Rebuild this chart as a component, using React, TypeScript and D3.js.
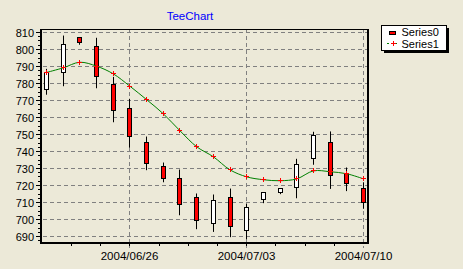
import React from "react";
import * as d3 from "d3";

const W = 463;
const H = 269;

const startDate = new Date(2004, 5, 21);
const days = d3.range(20).map((i) => d3.timeDay.offset(startDate, i));

const openVals = [776.6, 786.3, 806.9, 801.6, 779.2, 765.3, 745.1, 731.2, 723.9, 712.8, 697.5, 712.8, 693.3, 711.6, 715.6, 718.6, 735.7, 745.1, 727.2, 718.4];
const highVals = [788.6, 808.2, 806.9, 806.9, 783.9, 771.0, 748.8, 733.5, 729.4, 715.3, 714.7, 718.2, 709.4, 715.6, 718.1, 735.7, 751.6, 751.8, 730.6, 721.9];
const lowVals = [773.4, 778.4, 802.8, 777.2, 757.2, 742.2, 729.0, 721.9, 702.5, 694.3, 692.7, 689.6, 688.4, 709.6, 714.9, 712.5, 732.2, 718.0, 716.7, 706.3];
const closeVals = [786.5, 802.9, 803.9, 783.9, 763.9, 748.8, 732.8, 724.1, 709.0, 699.2, 711.2, 696.1, 706.9, 715.6, 718.1, 732.2, 749.4, 725.7, 721.4, 710.2];

const series1Vals = [786.5, 789.2, 792.5, 790.2, 785.7, 778.4, 770.5, 762.2, 752.2, 742.8, 736.9, 729.2, 725.1, 723.4, 722.8, 723.9, 728.6, 728.1, 726.9, 723.9];

const yTicks = d3.range(690, 811, 10);
const xMajorTicks = [new Date(2004, 5, 26), new Date(2004, 6, 3), new Date(2004, 6, 10)];

const FONT = "'Liberation Sans', Arial, sans-serif";
const BG = "#ECE9D8";

const left = 41;
const right = 368;
const top = 29;
const bottom = 243;

const x = d3.scaleTime().domain([days[0], days[19]]).range([46.5, 363.5]);
const y = d3.scaleLinear().domain([690, 810]).range([236.5, 32.5]);

const px = (v: number) => Math.round(v - 0.5) + 0.5;

export default function App() {
  const fmt = d3.timeFormat("%Y/%m/%d");
  const pts = days.map((d, i) => [x(d), y(series1Vals[i])] as [number, number]);
  const line = d3.line().curve(d3.curveCatmullRom.alpha(0.5))(pts) || "";

  // minor ticks on x axis: 3 between majors
  const msDay = 86400000;
  const step = (7 * msDay) / 4;
  const xMinor: number[] = [];
  for (let t = xMajorTicks[0].getTime() - 3 * step; t < xMajorTicks[2].getTime(); t += step) {
    const xv = x(new Date(t));
    if (xv > left + 2 && xv < right - 1) xMinor.push(xv);
  }
  const yMinor = d3.range(687.5, 811, 2.5).filter((v) => v % 10 !== 0 && y(v) > top && y(v) < bottom - 1);

  const plus = (cx: number, cy: number, key: string) => (
    <g key={key}>
      <line x1={cx - 2.5} x2={cx + 2.5} y1={cy} y2={cy} stroke="#FF0000" strokeWidth={1} />
      <line x1={cx} x2={cx} y1={cy - 2.5} y2={cy + 2.5} stroke="#FF0000" strokeWidth={1} />
    </g>
  );

  return (
    <svg width={W} height={H} style={{ position: "absolute", left: 0, top: 0, background: BG }} fontFamily={FONT}>
      <rect x={0} y={0} width={W} height={H} fill={BG} />
      <text x={190} y={20} textAnchor="middle" fontSize={11.5} fill="#0000FF">TeeChart</text>

      {/* horizontal grid */}
      {yTicks.map((v) => (
        <line key={"g" + v} x1={36} x2={right} y1={px(y(v))} y2={px(y(v))} stroke="#808080" strokeDasharray="4,3" />
      ))}
      {/* vertical grid */}
      {xMajorTicks.map((d) => (
        <line key={"v" + d.getTime()} x1={px(x(d))} x2={px(x(d))} y1={top} y2={bottom + 5} stroke="#808080" strokeDasharray="4,3" />
      ))}

      {/* candles */}
      {days.map((d, i) => {
        const cx = px(x(d));
        const o = openVals[i];
        const c = closeVals[i];
        const up = c > o;
        const yt = px(y(Math.max(o, c)));
        const yb = px(y(Math.min(o, c)));
        return (
          <g key={"c" + i}>
            <line x1={cx} x2={cx} y1={y(highVals[i])} y2={y(lowVals[i])} stroke="#000" strokeWidth={1} />
            <rect x={cx - 2} y={yt} width={4} height={Math.max(1, yb - yt)} fill={up ? "#FFFFFF" : "#FF0000"} stroke="#000" strokeWidth={1} />
          </g>
        );
      })}

      {/* series1 line */}
      <path d={line} fill="none" stroke="#008000" strokeWidth={1} />
      {pts.map((p, i) => plus(px(p[0]), px(p[1]), "m" + i))}

      {/* frame */}
      <line x1={left - 1} x2={right + 1} y1={top + 0.5} y2={top + 0.5} stroke="#000" strokeWidth={1} />
      <line x1={right} x2={right} y1={top} y2={bottom + 1} stroke="#000" strokeWidth={2} />
      <line x1={left} x2={left} y1={top} y2={bottom + 1} stroke="#000" strokeWidth={2} />
      <line x1={left - 1} x2={right + 1} y1={bottom} y2={bottom} stroke="#000" strokeWidth={2} />

      {/* y ticks */}
      {yTicks.map((v) => (
        <line key={"t" + v} x1={36} x2={40} y1={px(y(v))} y2={px(y(v))} stroke="#000" />
      ))}
      {yMinor.map((v) => (
        <line key={"ym" + v} x1={38} x2={40} y1={px(y(v))} y2={px(y(v))} stroke="#000" />
      ))}
      {yTicks.map((v) => (
        <text key={"l" + v} x={34} y={y(v) + 4} textAnchor="end" fontSize={11} fill="#000">{v}</text>
      ))}

      {/* x ticks */}
      {xMinor.map((xv, i) => (
        <line key={"xm" + i} x1={px(xv)} x2={px(xv)} y1={bottom + 1} y2={bottom + 3} stroke="#000" />
      ))}
      {xMajorTicks.map((d) => (
        <text key={"xl" + d.getTime()} x={px(x(d))} y={260} textAnchor="middle" fontSize={11.5} fill="#000">{fmt(d)}</text>
      ))}

      {/* legend */}
      <rect x={384} y={28} width={65} height={25} fill="#000" />
      <rect x={381.5} y={25.5} width={65} height={25} fill="#FFFFFF" stroke="#000" />
      <rect x={389.5} y={31.5} width={6} height={3} fill="#FF0000" stroke="#000" />
      <text x={401.5} y={36} fontSize={11} fill="#000">Series0</text>
      <line x1={387} x2={399} y1={43.5} y2={43.5} stroke="#008000" strokeDasharray="2,2" />
      {plus(393.5, 43.5, "legplus")}
      <text x={401.5} y={48} fontSize={11} fill="#000">Series1</text>
    </svg>
  );
}
